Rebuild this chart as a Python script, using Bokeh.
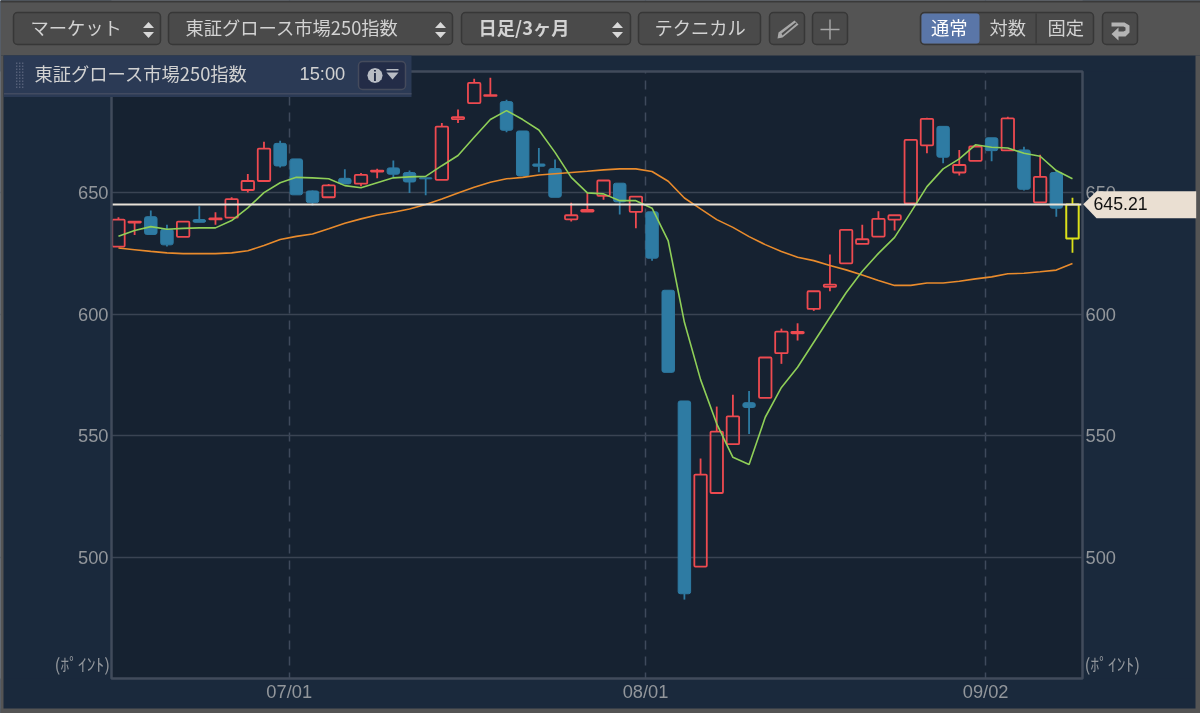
from bokeh.embed import file_html
from bokeh.resources import INLINE
from bokeh.plotting import figure
from bokeh.models import (BoxAnnotation, FixedTicker, Label, LinearAxis, PolyAnnotation, Range1d)
import math

# ---- data -------------------------------------------------------------
open_ = [627.9,637.8,640.2,635.0,631.9,639.0,639.1,639.8,651.2,654.9,670.4,664.0,650.8,648.2,656.0,653.8,
         658.8,660.3,658.4,656.2,655.4,680.4,687.0,690.0,687.6,675.5,661.9,660.0,639.1,642.3,648.8,654.0,
         642.2,642.2,609.9,564.3,496.1,526.4,546.5,563.6,565.6,584.0,592.2,602.2,611.3,621.0,629.0,632.0,
         639.0,645.7,669.6,677.4,658.4,663.2,672.7,667.5,667.7,646.1,658.4,631.2]
close = [639.0,638.2,632.9,628.6,638.2,637.9,639.5,647.4,654.9,668.2,661.1,649.2,646.0,653.1,653.7,657.4,
         659.2,657.7,654.5,655.8,677.3,681.2,695.3,690.3,675.8,657.0,661.0,648.2,640.8,643.0,655.1,646.3,
         648.5,623.1,576.1,484.9,534.0,551.7,558.0,561.6,582.2,592.9,592.8,609.5,612.2,634.8,630.9,639.3,
         640.8,671.8,680.5,664.7,661.5,669.1,667.4,680.7,651.5,656.6,643.7,645.21]
high = [640.0,638.4,642.7,636.9,638.2,644.5,642.0,648.2,657.8,671.1,671.5,664.0,651.0,653.7,659.7,658.2,
        659.9,663.3,659.2,656.2,678.8,684.4,697.0,697.4,688.4,675.5,668.5,663.8,645.9,650.0,655.1,654.0,
        648.5,642.2,609.9,564.3,540.6,562.0,566.9,568.4,582.2,594.1,596.3,609.5,624.6,634.8,636.9,642.4,
        640.8,671.8,680.9,677.4,667.7,669.5,672.7,681.4,669.0,665.7,659.2,648.0]
low = [627.9,632.7,632.9,627.9,631.9,637.9,636.9,639.8,650.2,654.9,660.5,649.2,644.8,648.2,653.7,652.7,
       656.0,656.4,650.0,649.0,655.4,678.8,687.0,690.0,675.0,657.0,658.5,648.2,638.2,642.3,647.2,641.1,
       635.4,622.1,576.1,482.5,496.1,526.4,546.5,550.7,565.6,579.6,589.2,601.4,609.5,621.0,629.0,632.0,
       634.5,645.7,666.3,662.2,657.2,663.2,663.0,667.5,651.0,646.1,640.2,625.3]
ma_short = [632.1,634.5,636.1,635.0,635.4,635.6,635.6,638.6,643.8,650.1,654.2,656.4,656.2,655.8,653.0,652.1,
            654.2,656.2,656.6,656.8,661.2,665.4,672.9,680.2,683.9,680.2,675.9,666.7,656.4,650.0,649.6,646.8,
            646.8,643.7,630.2,596.7,573.1,554.9,541.1,538.1,557.6,569.9,578.2,588.5,598.8,608.9,617.7,625.1,
            631.7,642.0,652.6,659.9,664.0,669.8,668.8,668.5,666.3,665.1,659.2,655.8]
ma_long = [627.3,626.6,625.9,625.3,625.0,625.0,625.0,625.3,626.2,628.3,630.8,632.1,633.1,635.2,637.5,639.3,
           640.9,642.0,643.4,645.2,647.5,650.0,652.3,654.4,655.8,656.4,657.4,657.9,658.4,658.9,659.5,659.9,
           659.9,658.8,654.8,647.9,643.4,639.0,635.8,632.0,628.7,625.9,623.5,622.1,620.1,618.3,616.2,613.9,
           611.9,611.9,612.9,612.9,613.6,614.6,615.4,616.7,616.9,617.5,618.2,620.9]
last_price = 645.21
y_ticks = [500, 550, 600, 650]
x_ticks = [10.56, 32.6, 53.63]
x_labels = ["07/01", "08/01", "09/02"]
x_left, x_right, y_bottom = -0.43, 59.62, 450

# ---- palette / fonts --------------------------------------------------
PANEL = "#1a293c"; PLOT = "#162231"; TOOLBAR = "#545454"; BTN = "#4a4a4a"; BTN_EDGE = "#373737"
RED = "#ee4a50"; BLUE = "#2e7ba3"; YELLOW = "#dbe01a"; GREEN = "#8fcf58"; ORANGE = "#e98b2c"
TICK = "#92969b"; FRAME = "#414b5b"; GRID = "#3a4453"; TEXT = "#d2d2d2"; TAG = "#eadfd2"
JP = "Noto Sans CJK JP"; LAT = "Liberation Sans"
OVER = "annotation"

p = figure(width=1200, height=713, output_backend="svg", toolbar_location=None,
           x_range=Range1d(-7.2946, 66.9175), y_range=Range1d(435.585, 729.242),
           min_border=0, min_border_left=0, min_border_right=0, min_border_top=0, min_border_bottom=0,
           background_fill_color=PLOT, border_fill_color=PANEL, outline_line_color=None)
p.styles = {"position": "fixed", "left": "0px", "top": "0px"}

xs = list(range(len(close)))
def style_axis(a, ticks, standoff, loc):
    a.ticker = FixedTicker(ticks=ticks)
    a.fixed_location = loc
    a.axis_line_color = None
    a.major_tick_line_color = None
    a.minor_tick_line_color = None
    a.major_tick_out = 0
    a.major_tick_in = 0
    a.minor_tick_out = 0
    a.major_label_text_color = TICK
    a.major_label_text_font = LAT
    a.major_label_text_font_size = "18.3px"
    a.major_label_standoff = standoff

style_axis(p.yaxis[0], y_ticks, 3, x_left)
right = LinearAxis()
style_axis(right, y_ticks, 3, x_right)
p.add_layout(right, "right")
xa = p.xaxis[0]
style_axis(xa, x_ticks, 2, y_bottom)
xa.major_label_overrides = dict(zip(x_ticks, x_labels))

p.ygrid.grid_line_color = GRID
p.ygrid.grid_line_width = 1.5
p.xgrid.grid_line_color = "#3f4a5c"
p.xgrid.grid_line_width = 1.5
p.xgrid.grid_line_dash = "9 7"

# ---- chrome helpers (window-pixel positions) ---------------------------
def box(l, r, t, b, fill, edge=None, radius=0, lw=1, level=OVER):
    p.add_layout(BoxAnnotation(left=l, right=r, top=t, bottom=b,
                               left_units="canvas", right_units="canvas", top_units="canvas", bottom_units="canvas",
                               fill_color=fill, fill_alpha=1 if fill else 0, line_color=edge, line_width=lw,
                               line_alpha=1 if edge else 0, border_radius=radius, level=level))

def poly(xv, yv, fill):
    p.add_layout(PolyAnnotation(xs=list(xv), ys=list(yv), xs_units="canvas", ys_units="canvas",
                                fill_color=fill, fill_alpha=1, line_color=None, level=OVER))

def text(x, y, s, size=18.3, color=TEXT, font=JP, style="normal", align="left"):
    p.add_layout(Label(x=x, y=y, x_units="canvas", y_units="canvas", text=s,
                       text_font=font, text_font_size=f"{size}px", text_color=color,
                       text_font_style=style, text_align=align, text_baseline="middle", level=OVER))

# the surround of the plot frame hides the grid lines outside it
box(0, 111, 0, 713, PANEL, level="underlay")
box(1082, 1200, 0, 713, PANEL, level="underlay")
box(0, 1200, 0, 71, PANEL, level="underlay")
box(0, 1200, 678, 713, PANEL, level="underlay")

# ---- candles ----------------------------------------------------------
last = len(close) - 1
up = [i for i in xs if close[i] >= open_[i] and i != last]
down = [i for i in xs if close[i] < open_[i]]
W = 0.77

def wicks(idx, color):
    p.segment([i for i in idx], [high[i] for i in idx], [i for i in idx],
              [max(open_[i], close[i]) for i in idx], line_color=color, line_width=1.8)
    p.segment([i for i in idx], [min(open_[i], close[i]) for i in idx], [i for i in idx],
              [low[i] for i in idx], line_color=color, line_width=1.8)

wicks(down, BLUE)
p.vbar(x=down, width=W, top=[open_[i] for i in down], bottom=[close[i] for i in down],
       fill_color=BLUE, line_color=BLUE, line_width=1, border_radius=2)
wicks(up, RED)
p.vbar(x=up, width=W, top=[close[i] for i in up], bottom=[open_[i] for i in up],
       fill_alpha=0, line_color=RED, line_width=1.8, border_radius=1)
wicks([last], YELLOW)
p.vbar(x=[last], width=W, top=[close[last]], bottom=[open_[last]], fill_alpha=0, line_color=YELLOW, line_width=2)

p.line(xs, ma_long, line_color=ORANGE, line_width=1.6)
p.line(xs, ma_short, line_color=GREEN, line_width=1.6)
p.line([x_left, x_right], [last_price, last_price], line_color="#e8e2d8", line_width=2)

# frame outline
box(111, 1082, 71, 678, None, FRAME, 0, 2.5)

# ---- toolbar ----------------------------------------------------------
def updown(cx):
    poly([cx-5.5, cx+5.5, cx], [27.5, 27.5, 21.5], "#d8d8d8")
    poly([cx-5.5, cx+5.5, cx], [31.5, 31.5, 37.5], "#d8d8d8")

box(0, 1200, 0, 55, TOOLBAR)
box(0, 1200, 0, 2, "#3a3a3a")
box(0, 3, 55, 713, TOOLBAR)
box(1195, 1200, 55, 713, TOOLBAR)
box(0, 1200, 708, 713, TOOLBAR)
for l, r in [(13, 160), (168, 452), (461, 630), (638, 760), (769, 804), (812, 847), (1102, 1137)]:
    box(l, r, 12, 44, BTN, BTN_EDGE, 4, 1.5)
box(920, 1093, 12, 44, BTN, BTN_EDGE, 4, 1.5)
box(921, 979, 13, 43, "#5a76a8", None, 3)
box(1035, 1036.2, 13, 43, BTN_EDGE)

text(30, 26.5, "マーケット")
updown(148)
text(185, 26.5, "東証グロース市場250指数")
updown(440)
text(478, 26.5, "日足/3ヶ月", style="bold")
updown(617)
text(654, 26.5, "テクニカル")
# pencil
poly([778, 794, 798, 782, 777], [32, 20, 24, 37, 38], "#a8a8a8")
poly([781, 795, 796, 782], [33, 22, 23, 35], BTN)
# plus
box(820, 839, 28.3, 29.7, "#a8a8a8")
box(828.8, 830.2, 19, 39, "#a8a8a8")
text(930.5, 26.5, "通常", color="#ffffff")
text(989, 26.5, "対数")
text(1047, 26.5, "固定")
# return arrow
poly([1111, 1124, 1129, 1129, 1125, 1118, 1118, 1111, 1118, 1118, 1123, 1125, 1125, 1123, 1111],
     [22, 22, 25, 32, 36, 36, 40, 33.5, 27, 31, 31, 30, 27, 26, 26], "#b4b4b4")

# info header
box(3.5, 411, 55, 96.5, "#2b3a55")
box(3.5, 411, 92.5, 94, "#424b61")
for cx in (15.5, 18.5, 21.5):
    for k in range(9):
        box(cx, cx+1.4, 62+3*k, 63.4+3*k, "#566079")
text(34, 72.5, "東証グロース市場250指数")
text(299, 73, "15:00", font=LAT)
box(358, 405, 61, 89, "#232c47", "#454b5c", 4, 1.5)
poly([374.5+7.6*math.cos(a/12*2*math.pi) for a in range(12)],
     [75+7.6*math.sin(a/12*2*math.pi) for a in range(12)], "#b8bcc4")
text(374.5, 75, "i", size=14, color="#232c47", font=LAT, style="bold", align="center")
box(386, 398, 68.6, 70, "#b8bcc4")
poly([386, 398, 392], [72, 72, 79], "#b8bcc4")

# units
text(54, 663, "(ﾎﾟｲﾝﾄ)", size=17.5, color=TICK)
text(1084, 663, "(ﾎﾟｲﾝﾄ)", size=17.5, color=TICK)

# price tag
poly([1082.7, 1096, 1195.7, 1195.7, 1096], [203.7, 190.7, 190.7, 217.7, 217.7], TAG)
text(1093, 203.2, f"{last_price:.2f}", size=17.7, color="#111111", font=LAT)

open("out.html", "w").write(file_html(p, INLINE))
